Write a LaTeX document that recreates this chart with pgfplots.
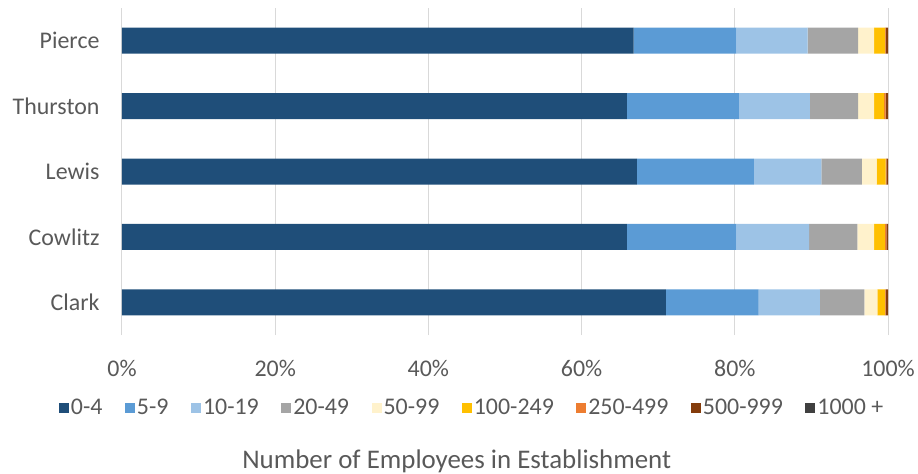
\documentclass[border=0pt]{standalone}
\usepackage{fontspec}
\setmainfont{Carlito}
\usepackage{pgfplots}
\pgfplotsset{compat=1.18}
\definecolor{cA}{HTML}{1F4E79}
\definecolor{cB}{HTML}{5B9BD5}
\definecolor{cC}{HTML}{9DC3E6}
\definecolor{cD}{HTML}{A5A5A5}
\definecolor{cE}{HTML}{FFF2CC}
\definecolor{cF}{HTML}{FFC000}
\definecolor{cG}{HTML}{ED7D31}
\definecolor{cH}{HTML}{843C0C}
\definecolor{cI}{HTML}{404040}
\definecolor{txt}{HTML}{595959}
\definecolor{grd}{HTML}{D9D9D9}
\begin{document}
\begin{tikzpicture}
\begin{axis}[
  xbar stacked,
  scale only axis,
  clip=false,
  width=766bp, height=327bp,
  xmin=0, xmax=100, ymin=-0.5, ymax=4.5,
  bar width=26bp,
  ytick={0,1,2,3,4},
  yticklabels={Clark,Cowlitz,Lewis,Thurston,Pierce},
  xtick={0,20,40,60,80,100},
  xticklabels={0\%,20\%,40\%,60\%,80\%,100\%},
  axis line style={draw=none},
  major tick length=0pt,
  xmajorgrids,
  grid style={draw=grd, line width=1bp},
  yticklabel style={font=\fontsize{24}{28}\selectfont, text=txt, xshift=-19bp},
  xticklabel style={font=\fontsize{24}{28}\selectfont, text=txt, yshift=-22bp},
  legend style={at={(0.457,-0.222)}, anchor=center, draw=none, fill=none,
    font=\fontsize{24}{28}\selectfont, text=txt,
    /tikz/every even column/.append style={column sep=20.5bp},
    inner sep=0pt, row sep=0pt},
  legend cell align=left,
  legend columns=9,
  legend image code/.code={\fill[#1] (0bp,-5bp) rectangle (10bp,5bp);},
  every axis plot/.append style={draw=none},
]
\addplot[fill=cA] coordinates {(71.0,0) (65.9,1) (67.2,2) (65.9,3) (66.8,4)};
\addplot[fill=cB] coordinates {(12.1,0) (14.3,1) (15.3,2) (14.7,3) (13.4,4)};
\addplot[fill=cC] coordinates {(8.0,0) (9.5,1) (8.8,2) (9.2,3) (9.3,4)};
\addplot[fill=cD] coordinates {(5.8,0) (6.3,1) (5.3,2) (6.3,3) (6.6,4)};
\addplot[fill=cE] coordinates {(1.7,0) (2.2,1) (1.9,2) (2.1,3) (2.1,4)};
\addplot[fill=cF] coordinates {(1.0,0) (1.4,1) (1.2,2) (1.3,3) (1.4,4)};
\addplot[fill=cG] coordinates {(0.1,0) (0.2,1) (0.1,2) (0.2,3) (0.1,4)};
\addplot[fill=cH] coordinates {(0.3,0) (0.2,1) (0.2,2) (0.3,3) (0.3,4)};
\addplot[fill=cI] coordinates {(0.0,0) (0.0,1) (0.0,2) (0.0,3) (0.0,4)};
\legend{0-4,5-9,10-19,20-49,50-99,100-249,250-499,500-999,1000 +}
\node[font=\fontsize{27}{31}\selectfont, text=txt] at (rel axis cs:0.437,-0.386) {Number of Employees in Establishment};
\end{axis}
\pgfresetboundingbox
\path (current axis.south west) ++(-122bp,-139bp) rectangle ++(918bp,474bp);
\end{tikzpicture}
\end{document}
